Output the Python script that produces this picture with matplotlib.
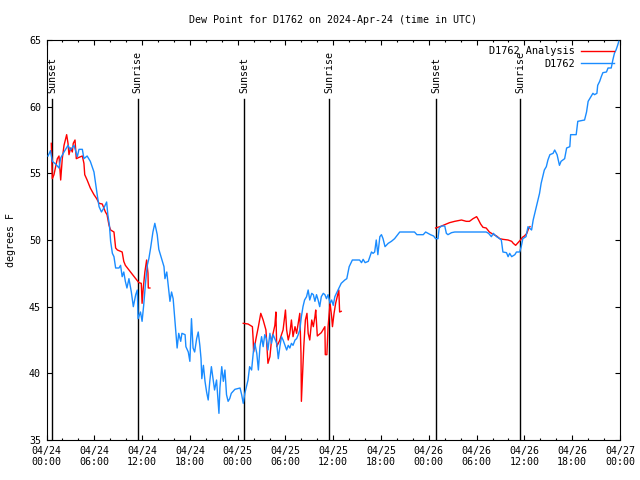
import numpy as np
import matplotlib
matplotlib.use("Agg")
import matplotlib.pyplot as plt
from matplotlib.ticker import MultipleLocator

# hours since 2024-04-24 00:00 UTC
obs_hours = [
    0.19, 0.5, 0.73, 1.15, 1.57, 1.78, 2.2, 2.7, 3.0, 3.45, 3.87, 4.08, 4.5, 4.7,
    5.1, 5.5, 5.96, 6.2, 6.4, 6.6, 6.9, 7.2, 7.55, 7.7, 7.9, 8.05, 8.27, 8.47,
    8.68, 9.1, 9.3, 9.5, 9.7, 9.9, 10.1, 10.35, 10.65, 10.9, 11.2, 11.4, 11.5,
    11.8, 12.0, 12.2, 12.45, 12.65, 12.85, 13.07, 13.36, 13.6, 13.9, 14.1, 14.45,
    14.75, 14.87, 15.1, 15.3, 15.5, 15.7, 15.9, 16.1, 16.3, 16.4, 16.6, 16.85,
    17.0, 17.4, 17.5, 17.8, 18.0, 18.2, 18.4, 18.6, 18.85, 19.05, 19.25, 19.4,
    19.5, 19.7, 19.9, 20.1, 20.3, 20.5, 20.7, 20.9, 21.1, 21.35, 21.55, 21.65,
    21.77, 22.0, 22.2, 22.4, 22.6, 22.8, 23.0, 23.2, 23.65, 24.3, 24.5, 24.7,
    24.9, 25.1, 25.3, 25.5, 25.75, 25.95, 26.15, 26.4, 26.6, 26.8, 27.0, 27.2,
    27.4, 27.6, 27.8, 28.05, 28.25, 28.45, 28.9, 29.1, 29.3, 29.5, 29.7, 30.15,
    30.35, 30.55, 30.75, 30.95, 31.2, 31.4, 31.6, 31.8, 32.0, 32.2, 32.4, 32.65,
    32.85, 33.05, 33.3, 33.5, 33.7, 33.9, 34.1, 34.3, 34.5, 34.75, 34.95, 35.15,
    35.35, 35.6, 35.8, 36.0, 36.2, 36.4, 36.6, 36.8, 37.0, 37.45, 37.7, 38.0,
    38.4, 39.3, 39.55, 39.75, 40.0, 40.4, 40.6, 40.8, 41.0, 41.2, 41.4, 41.6,
    41.85, 42.05, 42.25, 42.5, 42.9, 43.3, 43.7, 44.1, 44.35, 46.2, 46.5, 47.3,
    47.6, 47.9, 48.2, 48.6, 48.85, 49.15, 49.3, 49.6, 50.0, 50.2, 50.4, 50.85,
    51.25, 55.2, 55.5, 55.85, 56.1, 56.5, 56.9, 57.1, 57.3, 57.75, 57.95, 58.15,
    58.4, 58.8, 59.0, 59.4, 59.6, 59.8, 60.2, 60.45, 60.9, 61.1, 61.3, 61.5,
    61.7, 61.9, 62.1, 62.3, 62.5, 62.75, 62.95, 63.2, 63.6, 63.8, 64.1, 64.4,
    64.6, 65.05, 65.3, 65.7, 65.8, 66.5, 66.7, 67.55, 67.8, 68.0, 68.2, 68.6,
    68.8, 69.1, 69.2, 69.45, 69.65, 69.85, 70.3, 70.5, 70.9, 71.1, 71.3, 71.5,
    71.7, 71.85,
]
obs_dewpt = [
    56.3, 56.7, 55.9, 55.7, 55.4, 56.15, 56.6, 57.1, 56.75, 57.1, 56.25, 56.8, 56.8, 56.1,
    56.3, 55.9, 55.1, 54.1, 53.25, 52.5, 52.1, 52.4, 52.85, 51.9, 51.1, 49.9, 49.0, 48.75,
    47.9, 47.9, 48.1, 47.25, 47.6, 46.9, 46.4, 47.1, 46.1, 45.0, 45.9, 46.25, 44.1,
    44.6, 43.9, 45.1, 46.9, 48.1, 48.6, 49.4, 50.6, 51.25, 50.4, 49.3, 48.6,
    48.0, 47.1, 47.6, 46.5, 45.4, 46.1, 45.6, 44.1, 42.6, 41.9, 43.0, 42.4,
    43.0, 42.9, 42.0, 41.6, 40.9, 44.1, 41.9, 41.6, 42.6, 43.1, 42.1, 41.1,
    39.6, 40.6, 39.4, 38.6, 38.0, 39.4, 40.5, 39.6, 38.75, 39.5, 37.9, 37.0,
    38.9, 40.5, 39.4, 40.25, 38.4, 37.9, 38.1, 38.5, 38.8, 38.9, 38.4, 37.75,
    38.5, 39.0, 39.5, 40.5, 40.25, 41.5, 42.25, 41.5, 40.25, 42.0, 42.75, 42.0,
    42.9, 42.6, 41.75, 43.0, 42.25, 42.9, 42.25, 41.1, 42.0, 42.75, 42.5, 41.75,
    42.1, 41.9, 42.25, 42.1, 42.5, 42.6, 42.9, 43.25, 44.25, 45.0, 45.5, 45.75,
    46.25, 45.5, 46.0, 45.9, 45.4, 45.9, 45.5, 45.0, 45.75, 46.0, 45.9, 45.6,
    45.9, 45.25, 45.5, 45.1, 45.75, 46.0, 46.25, 46.5, 46.75, 47.0, 47.1, 48.0,
    48.5, 48.5, 48.3, 48.55, 48.3, 48.4, 48.75, 49.1, 49.0, 49.1, 50.0, 48.9,
    50.25, 50.4, 50.1, 49.5, 49.75, 49.9, 50.1, 50.4, 50.6, 50.6, 50.4, 50.4,
    50.6, 50.5, 50.4, 50.3, 50.1, 50.1, 50.9, 51.05, 51.05, 50.5, 50.4, 50.55,
    50.6, 50.6, 50.5, 50.25, 50.5, 50.25, 50.1, 50.0, 49.1, 49.05, 48.75, 49.0,
    48.75, 48.9, 49.1, 49.1, 49.5, 50.1, 50.25, 51.0, 50.75, 51.5, 52.0, 52.5,
    53.0, 53.5, 54.25, 54.75, 55.25, 55.5, 56.0, 56.4, 56.5, 56.75, 56.4, 55.6,
    55.9, 56.1, 56.9, 57.0, 57.9, 57.9, 58.9, 59.0, 59.6, 60.4, 60.6, 61.0,
    60.9, 61.0, 61.6, 61.9, 62.25, 62.55, 62.6, 62.9, 62.9, 63.5, 64.0, 64.25,
    64.6, 64.9,
]

# analysis: three night-time pieces, NaN marks the gaps
ana_hours = [
    0.6, 0.73, 0.94, 1.15, 1.36, 1.57, 1.78, 1.98, 2.2, 2.53, 2.7, 2.82, 3.03,
    3.24, 3.36, 3.58, 3.74, 4.08, 4.5, 4.7, 4.8, 5.1, 5.5, 5.96, 6.3, 6.6, 7.0,
    7.4, 7.6, 7.85, 8.05, 8.47, 8.68, 8.9, 9.5, 9.7, 9.9, 10.35, 10.8, 11.2,
    11.6, 11.9, 12.0, 12.15, 12.35, 12.57, 12.74, 12.78, 12.98,
    13.0,
    24.7, 25.3, 25.85, 25.95, 26.0, 26.3, 26.6, 26.9, 27.2, 27.55, 27.8, 28.05,
    28.25, 28.45, 28.67, 28.8, 28.9, 29.3, 29.5, 29.7, 30.0, 30.15, 30.35, 30.55,
    30.75, 30.95, 31.2, 31.4, 31.6, 31.8, 31.95, 32.0, 32.15, 32.3, 32.5, 32.7,
    32.85, 33.05, 33.3, 33.5, 33.7, 33.8, 34.0, 34.5, 34.95, 35.0, 35.2, 35.35,
    35.6, 35.8, 35.9, 36.1, 36.3, 36.6, 36.7, 36.8, 37.0,
    37.1,
    48.85, 49.4, 49.8, 50.2, 50.6, 51.25, 51.7, 52.1, 52.7, 53.1, 53.55, 54.0,
    54.2, 54.5, 54.8, 55.2, 55.6, 56.0, 56.5, 56.9, 57.3, 57.95, 58.4, 58.6,
    58.9, 59.2, 59.5, 59.75, 60.0, 60.3, 60.55, 60.7,
]
ana_dewpt = [
    57.25, 54.6, 54.9, 55.5, 56.1, 56.3, 54.5, 56.1, 57.1, 57.9, 57.25, 56.4, 56.9,
    56.6, 57.25, 57.5, 56.1, 56.2, 56.3, 55.75, 54.9, 54.5, 53.9, 53.4, 53.1, 52.75, 52.7,
    52.1, 51.9, 51.1, 50.75, 50.6, 49.4, 49.25, 49.1, 48.4, 48.1, 47.75, 47.4, 47.1,
    46.8, 46.75, 45.25, 46.4, 47.6, 48.5, 47.5, 46.4, 46.4,
    np.nan,
    43.75, 43.7, 43.5, 42.5, 41.6, 42.6, 43.5, 44.5, 44.0, 43.25, 40.75, 41.25,
    42.5, 43.0, 43.6, 44.6, 42.0, 42.5, 42.9, 43.25, 44.75, 43.25, 42.5, 43.0,
    44.0, 42.75, 43.5, 43.0, 43.75, 44.5, 41.5, 37.9, 40.0, 42.0, 44.0, 44.5,
    43.0, 42.5, 44.0, 43.5, 44.25, 44.75, 42.8, 43.05, 43.5, 41.4, 41.4, 43.5,
    45.25, 44.25, 43.5, 44.5, 45.25, 46.0, 46.25, 44.6, 44.65,
    np.nan,
    50.9, 51.0, 51.1, 51.2, 51.3, 51.4, 51.45, 51.5, 51.4, 51.4, 51.6, 51.75,
    51.55, 51.2, 50.95, 50.9, 50.6, 50.45, 50.3, 50.1, 50.05, 50.0, 49.9, 49.75,
    49.6, 49.8, 50.0, 50.2, 50.3, 50.5, 50.9, 51.0,
]

sun_hours = [0.73, 11.44, 24.83, 35.5, 48.9, 59.45]
sun_labels = ["Sunset", "Sunrise", "Sunset", "Sunrise", "Sunset", "Sunrise"]

tick_hours = list(range(0, 73, 6))
tick_labels = [
    "04/24\n00:00", "04/24\n06:00", "04/24\n12:00", "04/24\n18:00",
    "04/25\n00:00", "04/25\n06:00", "04/25\n12:00", "04/25\n18:00",
    "04/26\n00:00", "04/26\n06:00", "04/26\n12:00", "04/26\n18:00",
    "04/27\n00:00",
]

plt.rcParams['font.family'] = ['DejaVu Sans Mono']
plt.rcParams['font.size'] = 7.2

fig = plt.figure(figsize=(6.4, 4.8), dpi=100)
ax = fig.add_axes([46.5 / 640, 40 / 480, 573.5 / 640, 400 / 480])

for h, lab in zip(sun_hours, sun_labels):
    ax.plot([h, h], [35, 60.6], color='black', lw=1.0, zorder=1)
    ax.text(h, 61.0, lab, rotation=90, ha='center', va='bottom', fontsize=7.2)

ax.plot(ana_hours, ana_dewpt, color='#ff0000', lw=1.0, label='D1762 Analysis', zorder=2)
ax.plot(obs_hours, obs_dewpt, color='#1a8cff', lw=1.0, label='D1762', zorder=3)

ax.set_xlim(0, 72)
ax.set_ylim(35, 65)
ax.set_xticks(tick_hours)
ax.set_xticklabels(tick_labels)
ax.xaxis.set_minor_locator(MultipleLocator(2))
ax.set_yticks(range(35, 66, 5))
ax.tick_params(which='both', direction='in', top=True, right=True, pad=4)
ax.tick_params(which='major', length=3.3, width=0.8)
ax.tick_params(which='minor', length=1.7, width=0.8)

ax.set_ylabel('degrees F', labelpad=9)
ax.set_title('Dew Point for D1762 on 2024-Apr-24 (time in UTC)', fontsize=7.2, pad=12)

ax.legend(loc='upper right', frameon=False, markerfirst=False, handlelength=3.2,
          borderaxespad=0.2, labelspacing=0.25, handletextpad=0.6, fontsize=7.4)

fig.savefig('out.png', dpi=100)
